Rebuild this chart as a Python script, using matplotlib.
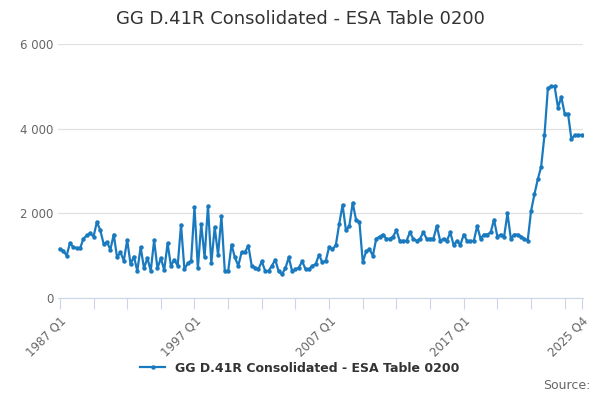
import matplotlib
matplotlib.use("Agg")
import matplotlib.pyplot as plt
from matplotlib.ticker import FuncFormatter

# quarterly values 1987 Q1 .. 2025 Q4
values = [
    1160, 1120, 1000, 1300, 1200, 1180, 1175, 1400, 1480, 1530,
    1450, 1800, 1600, 1280, 1320, 1140, 1500, 960, 1080, 880,
    1370, 800, 980, 640, 1200, 700, 945, 640, 1360, 700,
    945, 660, 1290, 760, 900, 760, 1730, 680, 820, 880,
    2150, 700, 1750, 960, 2170, 820, 1675, 1020, 1930, 640,
    630, 1260, 960, 760, 1080, 1080, 1240, 760, 720, 680,
    865, 640, 640, 760, 905, 630, 560, 700, 960, 640,
    675, 720, 865, 680, 680, 760, 800, 1020, 840, 880,
    1200, 1150, 1250, 1750, 2200, 1600, 1700, 2250, 1850, 1800,
    850, 1100, 1150, 1000, 1400, 1450, 1500, 1400, 1400, 1450,
    1600, 1350, 1350, 1350, 1550, 1400, 1350, 1400, 1550, 1400,
    1400, 1400, 1700, 1350, 1400, 1350, 1550, 1250, 1350, 1250,
    1500, 1350, 1350, 1350, 1700, 1400, 1500, 1500, 1550, 1850,
    1450, 1500, 1450, 2000, 1400, 1500, 1500, 1450, 1400, 1350,
    2050, 2450, 2800, 3100, 3850, 4950, 5000, 5000, 4500, 4750,
    4350, 4350, 3750, 3850, 3850, 3850,
]
labels = [f"{1987 + i // 4} Q{i % 4 + 1}" for i in range(len(values))]
shown = ["1987 Q1", "1997 Q1", "2007 Q1", "2017 Q1", "2025 Q4"]
series_name = "GG D.41R Consolidated - ESA Table 0200"

color = "#1a7abf"
fig, ax = plt.subplots(figsize=(6, 4), dpi=100)
fig.subplots_adjust(left=0.097, right=0.972, top=0.89, bottom=0.255)

x = list(range(len(values)))
ax.plot(x, values, color=color, lw=1.6, marker="o", ms=2.2, label=series_name)

ax.set_ylim(0, 6000)
ax.set_yticks([0, 2000, 4000, 6000])
ax.yaxis.set_major_formatter(FuncFormatter(lambda v, p: f"{int(v):,}".replace(",", " ")))
ax.grid(axis="y", color="#e0e0e0", lw=0.9)
ax.set_axisbelow(True)
ax.set_xlim(-0.5, len(values) - 0.5)

ticks = list(range(0, len(values), 10)) + [len(values) - 1]
ax.set_xticks(ticks)
ax.set_xticklabels([l if l in shown else "" for l in (labels[t] for t in ticks)],
                   rotation=45, ha="right", rotation_mode="anchor")
ax.tick_params(axis="x", length=8, color="#ccd6eb", labelcolor="#666666", labelsize=8.5)
ax.tick_params(axis="y", length=0, labelcolor="#666666", labelsize=8.5)
for s in ["top", "right", "left"]:
    ax.spines[s].set_visible(False)
ax.spines["bottom"].set_color("#ccd6eb")

fig.suptitle(series_name, x=0.5, y=0.975, fontsize=13, color="#333333")
leg = fig.legend(loc="lower center", bbox_to_anchor=(0.5, 0.035), frameon=False,
                 prop={"weight": "bold", "size": 9})
for t in leg.get_texts():
    t.set_color("#333333")
fig.text(0.985, 0.02, "Source:", ha="right", va="bottom", fontsize=9, color="#666666")

fig.savefig("out.png")
